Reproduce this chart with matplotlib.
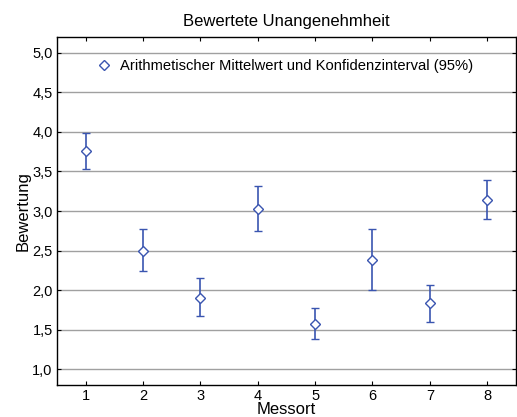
import matplotlib
matplotlib.use("Agg")
import matplotlib.pyplot as plt
from matplotlib.lines import Line2D

plt.rcParams['font.family'] = ['Liberation Sans', 'DejaVu Sans']

messort = [1, 2, 3, 4, 5, 6, 7, 8]
mittel = [3.76, 2.50, 1.90, 3.03, 1.57, 2.38, 1.83, 3.14]
ki_oben = [3.99, 2.77, 2.15, 3.32, 1.77, 2.77, 2.06, 3.39]
ki_unten = [3.53, 2.24, 1.67, 2.75, 1.38, 2.00, 1.59, 2.90]

err_lo = [m - u for m, u in zip(mittel, ki_unten)]
err_hi = [o - m for m, o in zip(mittel, ki_oben)]

fig = plt.figure(figsize=(5.17, 4.17), dpi=100)
ax = fig.add_axes([0.110, 0.077, 0.888, 0.834])

blue = '#3a55b0'
ax.errorbar(messort, mittel, yerr=[err_lo, err_hi], fmt='D', color=blue,
            mfc='white', mec=blue, ms=5, mew=1.0, elinewidth=1.2, capsize=3, capthick=1.2)

ax.set_xlim(0.5, 8.5)
ax.set_ylim(0.8, 5.2)
ax.set_xticks(messort)
yt = [1.0, 1.5, 2.0, 2.5, 3.0, 3.5, 4.0, 4.5, 5.0]
ax.set_yticks(yt)
ax.set_yticklabels([f'{v:.1f}'.replace('.', ',') for v in yt])
ax.yaxis.grid(True, color='#a0a0a0', lw=1.0)
ax.set_axisbelow(True)
ax.tick_params(direction='in', length=3, labelsize=10.5, top=True, right=True, width=0.8, pad=3)
for s in ax.spines.values():
    s.set_linewidth(1.0)

ax.set_title('Bewertete Unangenehmheit', fontsize=12, pad=8)
ax.set_xlabel('Messort', fontsize=12, labelpad=-1)
ax.set_ylabel('Bewertung', fontsize=12, labelpad=1)

proxy = Line2D([], [], ls='none', marker='D', ms=5, mfc='white', mec=blue, mew=1.0)
ax.legend([proxy], ['Arithmetischer Mittelwert und Konfidenzinterval (95%)'],
          loc='upper left', frameon=False, fontsize=10.6, handletextpad=0.3,
          handlelength=1.5, bbox_to_anchor=(0.05, 0.975))

fig.savefig('out.png', dpi=100)
